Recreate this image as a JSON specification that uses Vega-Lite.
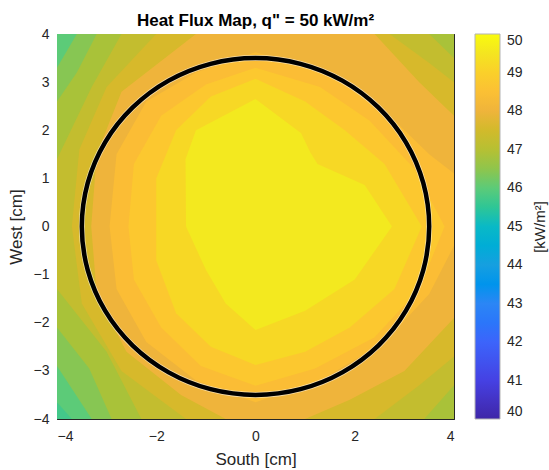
{
  "$schema": "https://vega.github.io/schema/vega-lite/v6.json",
  "autosize": {"type": "none"},
  "padding": {"left": 57, "top": 34, "right": 95, "bottom": 51},
  "width": 397,
  "height": 385,
  "background": "white",
  "title": {
    "text": "Heat Flux Map, q\" = 50 kW/m²",
    "font": "Liberation Sans",
    "fontSize": 17,
    "fontWeight": "bold",
    "color": "#000000",
    "anchor": "middle",
    "offset": -3
  },
  "datasets": {
    "bands": [
      {"lev": 45.6, "i": 0, "x": -4, "y": 4}, {"lev": 45.6, "i": 1, "x": 4, "y": 4}, {"lev": 45.6, "i": 2, "x": 4, "y": -4}, {"lev": 45.6, "i": 3, "x": -4, "y": -4},
      {"lev": 46.0, "i": 0, "x": -4, "y": 4}, {"lev": 46.0, "i": 1, "x": 4, "y": 4}, {"lev": 46.0, "i": 2, "x": 4, "y": -4}, {"lev": 46.0, "i": 3, "x": -3.7, "y": -4}, {"lev": 46.0, "i": 4, "x": -4, "y": -3.65},
      {"lev": 46.4, "i": 0, "x": -3.6, "y": 4}, {"lev": 46.4, "i": 1, "x": 4, "y": 4}, {"lev": 46.4, "i": 2, "x": 4, "y": -4}, {"lev": 46.4, "i": 3, "x": -3.3, "y": -4}, {"lev": 46.4, "i": 4, "x": -3.65, "y": -3.45}, {"lev": 46.4, "i": 5, "x": -4, "y": -2.9}, {"lev": 46.4, "i": 6, "x": -4, "y": 3.3},
      {"lev": 46.8, "i": 0, "x": -3.2, "y": 4}, {"lev": 46.8, "i": 1, "x": 4, "y": 4}, {"lev": 46.8, "i": 2, "x": 4, "y": -4}, {"lev": 46.8, "i": 3, "x": -2.9, "y": -4}, {"lev": 46.8, "i": 4, "x": -3.35, "y": -2.95}, {"lev": 46.8, "i": 5, "x": -4, "y": -2.1}, {"lev": 46.8, "i": 6, "x": -4, "y": 2.6}, {"lev": 46.8, "i": 7, "x": -3.6, "y": 3.2},
      {"lev": 47.2, "i": 0, "x": -2.7, "y": 4}, {"lev": 47.2, "i": 1, "x": 3.5, "y": 4}, {"lev": 47.2, "i": 2, "x": 4, "y": 3.5}, {"lev": 47.2, "i": 3, "x": 4, "y": -3.3}, {"lev": 47.2, "i": 4, "x": 3.4, "y": -4}, {"lev": 47.2, "i": 5, "x": -2.3, "y": -4}, {"lev": 47.2, "i": 6, "x": -3.0, "y": -2.6}, {"lev": 47.2, "i": 7, "x": -4, "y": -1.3}, {"lev": 47.2, "i": 8, "x": -4, "y": 1.4}, {"lev": 47.2, "i": 9, "x": -3.3, "y": 2.9},
      {"lev": 47.6, "i": 0, "x": -2.0, "y": 4}, {"lev": 47.6, "i": 1, "x": 2.7, "y": 4}, {"lev": 47.6, "i": 2, "x": 3.5, "y": 3.4}, {"lev": 47.6, "i": 3, "x": 4, "y": 3.0}, {"lev": 47.6, "i": 4, "x": 4, "y": -2.7}, {"lev": 47.6, "i": 5, "x": 3.3, "y": -3.3}, {"lev": 47.6, "i": 6, "x": 2.4, "y": -4}, {"lev": 47.6, "i": 7, "x": -1.4, "y": -4}, {"lev": 47.6, "i": 8, "x": -2.7, "y": -3.0}, {"lev": 47.6, "i": 9, "x": -3.5, "y": -1.6}, {"lev": 47.6, "i": 10, "x": -3.7, "y": 0}, {"lev": 47.6, "i": 11, "x": -3.55, "y": 1.6}, {"lev": 47.6, "i": 12, "x": -3.0, "y": 2.9},
      {"lev": 48.0, "i": 0, "x": -1.2, "y": 4}, {"lev": 48.0, "i": 1, "x": 2.4, "y": 4}, {"lev": 48.0, "i": 2, "x": 3.3, "y": 3.0}, {"lev": 48.0, "i": 3, "x": 4, "y": 2.3}, {"lev": 48.0, "i": 4, "x": 4, "y": -1.9}, {"lev": 48.0, "i": 5, "x": 3.0, "y": -3.0}, {"lev": 48.0, "i": 6, "x": 1.9, "y": -3.6}, {"lev": 48.0, "i": 7, "x": 1.0, "y": -4}, {"lev": 48.0, "i": 8, "x": -0.6, "y": -4}, {"lev": 48.0, "i": 9, "x": -1.5, "y": -3.5}, {"lev": 48.0, "i": 10, "x": -2.6, "y": -2.6}, {"lev": 48.0, "i": 11, "x": -3.2, "y": -1.4}, {"lev": 48.0, "i": 12, "x": -3.31, "y": 0}, {"lev": 48.0, "i": 13, "x": -3.2, "y": 1.5}, {"lev": 48.0, "i": 14, "x": -2.7, "y": 2.8},
      {"lev": 48.4, "i": 0, "x": 0, "y": 3.62}, {"lev": 48.4, "i": 1, "x": 1.5, "y": 3.2}, {"lev": 48.4, "i": 2, "x": 2.7, "y": 2.3}, {"lev": 48.4, "i": 3, "x": 3.5, "y": 1.5}, {"lev": 48.4, "i": 4, "x": 4, "y": 1.1}, {"lev": 48.4, "i": 5, "x": 4, "y": -0.4}, {"lev": 48.4, "i": 6, "x": 3.5, "y": -1.4}, {"lev": 48.4, "i": 7, "x": 2.6, "y": -2.4}, {"lev": 48.4, "i": 8, "x": 1.3, "y": -3.2}, {"lev": 48.4, "i": 9, "x": 0, "y": -3.65}, {"lev": 48.4, "i": 10, "x": -1.2, "y": -3.2}, {"lev": 48.4, "i": 11, "x": -2.2, "y": -2.4}, {"lev": 48.4, "i": 12, "x": -2.8, "y": -1.3}, {"lev": 48.4, "i": 13, "x": -2.94, "y": 0}, {"lev": 48.4, "i": 14, "x": -2.8, "y": 1.5}, {"lev": 48.4, "i": 15, "x": -2.2, "y": 2.6}, {"lev": 48.4, "i": 16, "x": -1.2, "y": 3.2},
      {"lev": 48.8, "i": 0, "x": 0, "y": 3.3}, {"lev": 48.8, "i": 1, "x": 1.3, "y": 2.9}, {"lev": 48.8, "i": 2, "x": 2.3, "y": 2.2}, {"lev": 48.8, "i": 3, "x": 3.2, "y": 1.2}, {"lev": 48.8, "i": 4, "x": 3.81, "y": 0}, {"lev": 48.8, "i": 5, "x": 3.3, "y": -1.3}, {"lev": 48.8, "i": 6, "x": 2.4, "y": -2.3}, {"lev": 48.8, "i": 7, "x": 1.2, "y": -2.95}, {"lev": 48.8, "i": 8, "x": 0, "y": -3.31}, {"lev": 48.8, "i": 9, "x": -1.1, "y": -2.9}, {"lev": 48.8, "i": 10, "x": -1.9, "y": -2.1}, {"lev": 48.8, "i": 11, "x": -2.45, "y": -1.1}, {"lev": 48.8, "i": 12, "x": -2.56, "y": 0}, {"lev": 48.8, "i": 13, "x": -2.45, "y": 1.3}, {"lev": 48.8, "i": 14, "x": -1.9, "y": 2.3}, {"lev": 48.8, "i": 15, "x": -1.0, "y": 2.95},
      {"lev": 49.2, "i": 0, "x": 0, "y": 3.07}, {"lev": 49.2, "i": 1, "x": 1.0, "y": 2.6}, {"lev": 49.2, "i": 2, "x": 1.8, "y": 2.0}, {"lev": 49.2, "i": 3, "x": 2.6, "y": 1.3}, {"lev": 49.2, "i": 4, "x": 3.35, "y": 0}, {"lev": 49.2, "i": 5, "x": 2.8, "y": -1.3}, {"lev": 49.2, "i": 6, "x": 1.9, "y": -2.1}, {"lev": 49.2, "i": 7, "x": 1.0, "y": -2.6}, {"lev": 49.2, "i": 8, "x": 0, "y": -2.88}, {"lev": 49.2, "i": 9, "x": -0.9, "y": -2.5}, {"lev": 49.2, "i": 10, "x": -1.6, "y": -1.8}, {"lev": 49.2, "i": 11, "x": -2.0, "y": -0.7}, {"lev": 49.2, "i": 12, "x": -2.0, "y": 1.0}, {"lev": 49.2, "i": 13, "x": -1.6, "y": 2.0}, {"lev": 49.2, "i": 14, "x": -0.9, "y": 2.7},
      {"lev": 49.6, "i": 0, "x": 0, "y": 2.65}, {"lev": 49.6, "i": 1, "x": 0.92, "y": 1.94}, {"lev": 49.6, "i": 2, "x": 1.1, "y": 1.55}, {"lev": 49.6, "i": 3, "x": 1.25, "y": 1.3}, {"lev": 49.6, "i": 4, "x": 2.2, "y": 0.86}, {"lev": 49.6, "i": 5, "x": 2.75, "y": 0}, {"lev": 49.6, "i": 6, "x": 2.0, "y": -1.1}, {"lev": 49.6, "i": 7, "x": 1.0, "y": -1.75}, {"lev": 49.6, "i": 8, "x": 0, "y": -2.15}, {"lev": 49.6, "i": 9, "x": -0.6, "y": -1.6}, {"lev": 49.6, "i": 10, "x": -1.0, "y": -0.9}, {"lev": 49.6, "i": 11, "x": -1.4, "y": 0}, {"lev": 49.6, "i": 12, "x": -1.41, "y": 1.4}, {"lev": 49.6, "i": 13, "x": -1.2, "y": 2.0}
    ],
    "ring": [
      {"i": 0, "x": 3.5, "y": 0}, {"i": 1, "x": 3.3807, "y": 0.9059}, {"i": 2, "x": 3.0311, "y": 1.75}, {"i": 3, "x": 2.4749, "y": 2.4749},
      {"i": 4, "x": 1.75, "y": 3.0311}, {"i": 5, "x": 0.9059, "y": 3.3807}, {"i": 6, "x": 0, "y": 3.5}, {"i": 7, "x": -0.9059, "y": 3.3807},
      {"i": 8, "x": -1.75, "y": 3.0311}, {"i": 9, "x": -2.4749, "y": 2.4749}, {"i": 10, "x": -3.0311, "y": 1.75}, {"i": 11, "x": -3.3807, "y": 0.9059},
      {"i": 12, "x": -3.5, "y": 0}, {"i": 13, "x": -3.3807, "y": -0.9059}, {"i": 14, "x": -3.0311, "y": -1.75}, {"i": 15, "x": -2.4749, "y": -2.4749},
      {"i": 16, "x": -1.75, "y": -3.0311}, {"i": 17, "x": -0.9059, "y": -3.3807}, {"i": 18, "x": 0, "y": -3.5}, {"i": 19, "x": 0.9059, "y": -3.3807},
      {"i": 20, "x": 1.75, "y": -3.0311}, {"i": 21, "x": 2.4749, "y": -2.4749}, {"i": 22, "x": 3.0311, "y": -1.75}, {"i": 23, "x": 3.3807, "y": -0.9059}
    ]
  },
  "layer": [
    {
      "data": {"name": "bands"},
      "mark": {"type": "line", "interpolate": "linear-closed", "strokeWidth": 0, "clip": true},
      "encoding": {
        "x": {
          "field": "x", "type": "quantitative",
          "scale": {"domain": [-4, 4], "nice": false, "zero": false},
          "axis": {"orient": "bottom", "values": [-4, -2, 0, 2, 4], "tickSize": -5, "labelPadding": 15, "title": "South [cm]", "titlePadding": 8}
        },
        "y": {
          "field": "y", "type": "quantitative",
          "scale": {"domain": [-4, 4], "nice": false, "zero": false},
          "axis": {"orient": "left", "values": [-4, -3, -2, -1, 0, 1, 2, 3, 4], "tickSize": -5, "labelPadding": 13, "title": "West [cm]", "titlePadding": 8}
        },
        "order": {"field": "i"},
        "detail": {"field": "lev"},
        "fill": {
          "field": "lev", "type": "quantitative",
          "scale": {
            "domain": [40, 41, 42, 43, 44, 45, 45.6, 46, 46.4, 46.8, 47.2, 47.6, 48, 48.4, 48.8, 49.2, 49.6, 50],
            "range": ["#3e26a8", "#4541e3", "#3c64fb", "#2b86f5", "#169fe0", "#09b9c6", "#43c88a", "#5ccb78", "#87c653", "#a9c239", "#c3bd2f", "#d7b92b", "#efb43b", "#fbbd35", "#fcc82f", "#f7d825", "#f3e91f", "#f9fb0e"]
          },
          "legend": {
            "type": "gradient",
            "direction": "vertical",
            "orient": "right",
            "offset": 20,
            "padding": 0,
            "values": [40, 41, 42, 43, 44, 45, 46, 47, 48, 49, 50],
            "gradientLength": 385,
            "gradientThickness": 25,
            "gradientStrokeColor": "#b3b3b3",
            "gradientStrokeWidth": 1,
            "labelFont": "Liberation Sans",
            "labelFontSize": 14,
            "labelColor": "#262626",
            "labelOffset": 7,
            "labelOverlap": false,
            "title": "[kW/m²]",
            "titleOrient": "right",
            "titleFont": "Liberation Sans",
            "titleFontSize": 15,
            "titleFontWeight": "normal",
            "titleColor": "#262626",
            "titlePadding": 10,
            "encode": {"title": {"update": {"angle": {"value": 270}, "baseline": {"value": "top"}}}}
          }
        }
      }
    },
    {
      "data": {"name": "ring"},
      "mark": {"type": "line", "interpolate": "cardinal-closed", "color": "#ffffff", "strokeWidth": 6, "opacity": 0.55},
      "encoding": {
        "x": {"field": "x", "type": "quantitative", "axis": null},
        "y": {"field": "y", "type": "quantitative", "axis": null},
        "order": {"field": "i"}
      }
    },
    {
      "data": {"name": "ring"},
      "mark": {"type": "line", "interpolate": "cardinal-closed", "color": "#000000", "strokeWidth": 4.5},
      "encoding": {
        "x": {
          "field": "x", "type": "quantitative",
          "axis": {"orient": "top", "values": [-4, -2, 0, 2, 4], "tickSize": -5, "labels": false, "title": null}
        },
        "y": {
          "field": "y", "type": "quantitative",
          "axis": {"orient": "right", "values": [-4, -3, -2, -1, 0, 1, 2, 3, 4], "tickSize": -5, "labels": false, "title": null}
        },
        "order": {"field": "i"}
      }
    }
  ],
  "resolve": {"axis": {"x": "independent", "y": "independent"}},
  "config": {
    "view": {"stroke": null},
    "axis": {
      "grid": false,
      "domainColor": "#262626",
      "domainWidth": 1,
      "tickColor": "#262626",
      "tickWidth": 1,
      "labelColor": "#262626",
      "titleColor": "#262626",
      "labelFont": "Liberation Sans",
      "titleFont": "Liberation Sans",
      "labelFontSize": 14,
      "titleFontSize": 17,
      "titleFontWeight": "normal"
    }
  }
}
